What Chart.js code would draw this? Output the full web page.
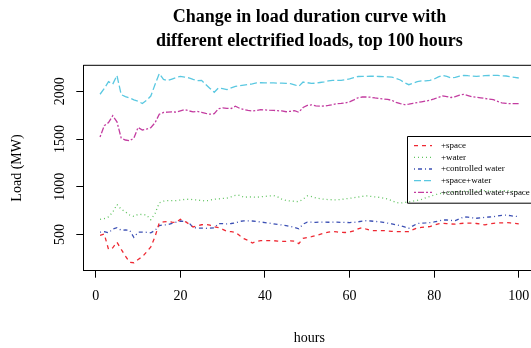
<!DOCTYPE html>
<html><head><meta charset="utf-8">
<script src="https://cdn.jsdelivr.net/npm/chart.js@4"></script>
<style>
html,body{margin:0;padding:0;background:#fff;overflow:hidden;width:531px;height:348px}
#wrap{position:absolute;left:0;top:0;width:545px;height:348px}
</style></head>
<body><div id="wrap"><canvas id="c" width="545" height="348"></canvas></div>
<script>
const hours = Array.from({length:100},(_,i)=>i+1);
const spaceLoad = [492,505,345,362,420,345,275,210,205,240,268,318,372,478,622,632,636,630,628,660,640,612,580,592,603,608,598,582,572,555,535,530,524,490,458,440,412,428,437,437,437,436,432,428,430,435,432,405,460,470,478,490,502,515,525,531,528,523,522,528,540,560,572,556,543,542,542,542,538,534,531,531,531,532,552,570,576,580,584,598,612,618,615,611,609,614,619,619,619,616,609,601,610,618,621,623,625,622,617,612];
const waterLoad = [660,668,685,735,815,765,738,705,690,712,710,705,655,720,832,850,856,855,856,862,868,870,866,862,856,852,860,870,874,878,881,895,910,912,890,895,893,891,895,900,905,908,895,870,856,852,848,845,870,905,898,885,875,870,866,864,864,868,874,880,886,893,900,905,900,894,890,882,872,855,835,830,836,842,850,858,868,885,900,915,925,935,940,945,948,950,955,952,950,955,958,960,955,952,958,962,960,955,950,948];
const ctrlWaterLoad = [525,530,518,558,572,545,548,546,470,525,526,524,518,545,595,601,603,618,630,642,635,624,575,567,567,566,567,570,615,615,612,616,622,638,644,643,642,637,632,626,620,612,606,600,594,585,574,560,610,630,630,628,631,630,629,630,630,628,627,626,628,634,640,646,642,638,634,628,620,612,603,593,580,567,592,615,620,622,625,632,642,652,654,648,646,665,685,682,676,671,676,680,684,688,695,702,704,698,692,688];
const spaceWaterLoad = [1969,2030,2100,2075,2165,1965,1945,1930,1910,1895,1872,1905,1950,2070,2185,2125,2112,2128,2145,2155,2148,2140,2125,2112,2115,2070,2030,1990,2035,2028,2017,2035,2052,2058,2065,2070,2078,2088,2090,2087,2088,2087,2086,2085,2083,2080,2068,2052,2097,2090,2082,2085,2092,2098,2110,2114,2115,2115,2120,2130,2142,2155,2157,2156,2158,2157,2155,2153,2151,2148,2135,2118,2090,2069,2085,2100,2108,2110,2115,2128,2150,2167,2155,2140,2145,2158,2167,2163,2160,2157,2160,2163,2165,2167,2166,2163,2160,2153,2146,2139];
const ctrlWaterSpaceLoad = [1522,1640,1672,1745,1680,1510,1490,1482,1510,1622,1595,1605,1620,1670,1760,1778,1782,1784,1782,1795,1808,1795,1785,1790,1780,1768,1760,1765,1818,1826,1822,1820,1843,1822,1808,1800,1794,1800,1808,1805,1802,1800,1797,1794,1786,1790,1797,1780,1830,1852,1858,1848,1845,1846,1852,1860,1870,1873,1878,1890,1910,1932,1940,1940,1938,1930,1924,1920,1915,1905,1885,1870,1860,1866,1874,1882,1890,1898,1906,1920,1936,1951,1945,1935,1945,1960,1968,1955,1942,1937,1932,1925,1918,1912,1895,1878,1873,1870,1870,1870];
const seriesNames = ["+space","+water","+controlled water","+space+water","+controlled water+space"];
const xTicks = [0,20,40,60,80,100];
const yTicks = [500,1000,1500,2000];
const titleLines = ["Change in load duration curve with","different electrified loads, top 100 hours"];
const xLabel = "hours";
const yLabel = "Load (MW)";

const seriesValues = [spaceLoad, waterLoad, ctrlWaterLoad, spaceWaterLoad, ctrlWaterSpaceLoad];
const colors = ["rgb(238,40,50)","rgb(95,195,95)","rgb(60,80,180)","rgb(90,200,225)","rgb(195,60,160)"];
const dashes = [[4,4],[1,3],[1,3,4,3],[7,3],[2,2,6,2]];

const datasets = seriesValues.map((vals,i)=>({
  label: seriesNames[i],
  data: hours.map((h,j)=>({x:h,y:vals[j]})),
  borderColor: colors[i],
  borderWidth: 1.3,
  borderDash: dashes[i],
  pointRadius: 0,
  fill: false,
  tension: 0
}));

const SERIF = "'Liberation Serif', 'Times New Roman', serif";

const overlay = {
  id: 'overlay',
  afterDraw(chart){
    const ctx = chart.ctx, a = chart.chartArea;
    const ys = chart.scales.y, xs = chart.scales.x;
    ctx.save();
    // box
    ctx.strokeStyle = '#000'; ctx.lineWidth = 1; ctx.setLineDash([]);
    ctx.beginPath();
    ctx.moveTo(a.left, a.top); ctx.lineTo(a.right, a.top); ctx.lineTo(a.right, a.bottom);
    ctx.stroke();
    // title
    ctx.fillStyle = '#000';
    ctx.textAlign = 'center'; ctx.textBaseline = 'middle';
    ctx.font = "bold 18px " + SERIF;
    const cx = (a.left + a.right)/2;
    ctx.fillText(titleLines[0], cx, 17);
    ctx.fillText(titleLines[1], cx, 41);
    // x label
    ctx.font = "14px " + SERIF;
    ctx.fillText(xLabel, cx, 338);
    // y tick labels (rotated)
    yTicks.forEach(v=>{
      const py = ys.getPixelForValue(v);
      ctx.save(); ctx.translate(60, py); ctx.rotate(-Math.PI/2);
      ctx.fillText(String(v), 0, 0); ctx.restore();
    });
    // y label
    ctx.save(); ctx.translate(17, (a.top+a.bottom)/2); ctx.rotate(-Math.PI/2);
    ctx.fillText(yLabel, 0, 0); ctx.restore();
    // legend
    const lx = 407, ly = 136, lb = 202.7;
    ctx.beginPath(); ctx.rect(lx+0.5, ly+0.5, 200, lb-ly); ctx.stroke();
    ctx.font = "9px " + SERIF; ctx.textAlign = 'left';
    seriesNames.forEach((n,i)=>{
      const ry = 145.7 + i*11.65;
      ctx.strokeStyle = colors[i]; ctx.lineWidth = 1.3; ctx.setLineDash(dashes[i]);
      ctx.beginPath(); ctx.moveTo(414, ry); ctx.lineTo(432, ry); ctx.stroke();
      ctx.setLineDash([]);
      ctx.fillStyle = '#000';
      ctx.fillText(n, 441, ry);
    });
    ctx.restore();
  }
};

new Chart(document.getElementById('c'), {
  type: 'line',
  data: { datasets },
  options: {
    responsive: false,
    animation: false,
    devicePixelRatio: 1,
    layout: { padding: { left: 0, top: 65.3, right: 9.5, bottom: 0 } },
    plugins: { legend: { display: false }, title: { display: false }, tooltip: { enabled: false } },
    scales: {
      x: {
        type: 'linear', min: -2.96, max: 103.96,
        afterBuildTicks: s => { s.ticks = xTicks.map(v=>({value:v})); },
        afterFit: s => { s.height = 77.3; },
        ticks: { color: '#000', font: { family: SERIF, size: 14 }, padding: 10, maxRotation: 0, autoSkip: false },
        grid: { drawOnChartArea: false, drawTicks: true, tickLength: 7, color: '#000' },
        border: { display: true, color: '#000', width: 1 }
      },
      y: {
        type: 'linear', min: 122, max: 2272,
        afterBuildTicks: s => { s.ticks = yTicks.map(v=>({value:v})); },
        afterFit: s => { s.width = 83.3; },
        ticks: { display: false },
        grid: { drawOnChartArea: false, drawTicks: true, tickLength: 7, color: '#000' },
        border: { display: true, color: '#000', width: 1 }
      }
    }
  },
  plugins: [overlay]
});
</script>
</body></html>
